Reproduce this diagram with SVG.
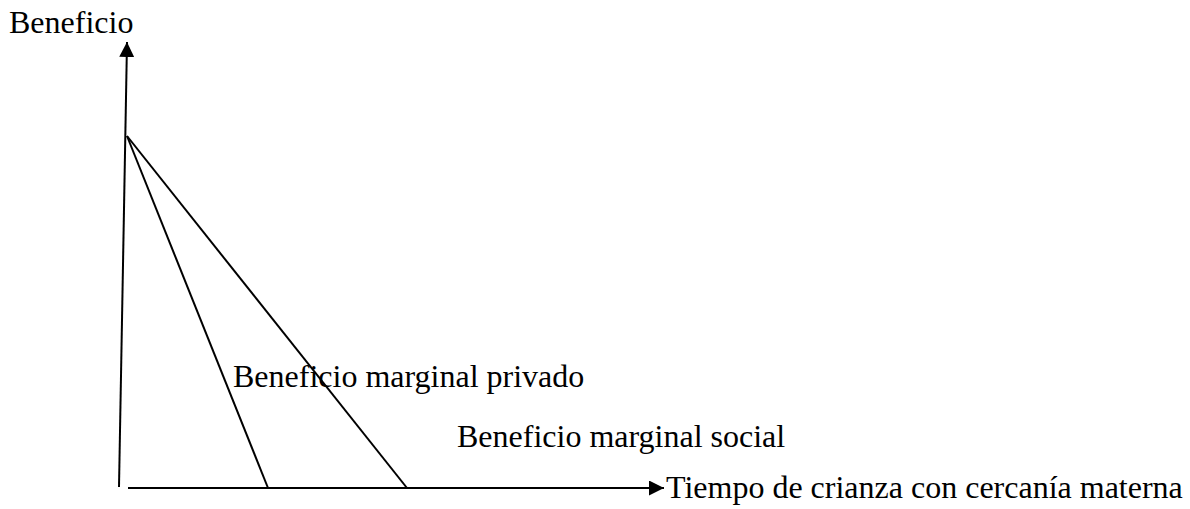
<svg xmlns="http://www.w3.org/2000/svg" width="1190" height="509" viewBox="0 0 1190 509">
<style>
text{font-family:"Liberation Serif","Times New Roman",serif;font-size:32px;fill:#000}
.ax{stroke:#000;stroke-width:2;fill:none}
.ln{stroke:#000;stroke-width:2;fill:none}
</style>
<defs>
<marker id="arr" viewBox="0 0 10 10" refX="10" refY="5" markerWidth="15" markerHeight="15" markerUnits="userSpaceOnUse" orient="auto">
<path d="M0,0 L10,5 L0,10 z" fill="#000"/>
</marker>
</defs>
<g id="connectors">
<line class="ax" x1="119" y1="487" x2="127" y2="42" marker-end="url(#arr)"/>
<line class="ax" x1="128" y1="488" x2="664" y2="488" marker-end="url(#arr)"/>
<line class="ln" x1="127" y1="136" x2="268" y2="488"/>
<line class="ln" x1="127" y1="136" x2="407" y2="488"/>
</g>
<g id="label-y"><text x="9" y="33">Beneficio</text></g>
<g id="label-private"><text x="233" y="387">Beneficio marginal privado</text></g>
<g id="label-social"><text x="457" y="447">Beneficio marginal social</text></g>
<g id="label-x"><text x="666" y="498">Tiempo de crianza con cercanía materna</text></g>
</svg>
